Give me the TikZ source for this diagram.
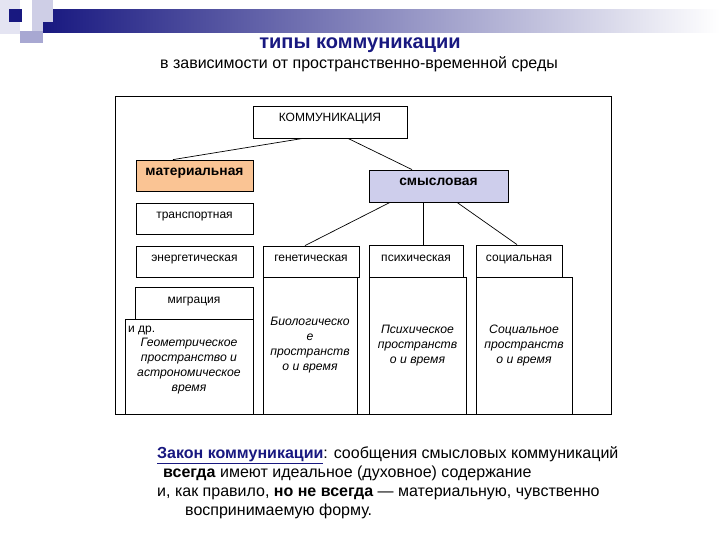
\documentclass[tikz,border=0pt]{standalone}
\usepackage{fontspec}
\setmainfont{Liberation Sans}

\definecolor{slidenavy}{RGB}{24,24,128}
\definecolor{matorange}{RGB}{250,196,148}
\definecolor{smyslblue}{RGB}{206,206,236}
\definecolor{sqpale}{RGB}{228,228,242}
\definecolor{sqlight}{RGB}{206,206,230}
\definecolor{sqmid}{RGB}{168,168,210}

\tikzset{
  box/.style={draw, rectangle, fill=white, line width=0.8pt, inner sep=2pt, text height=6pt, text depth=6pt, font=\fontsize{12}{14}\selectfont},
  kind/.style={box, font=\fontsize{13.8}{16}\selectfont\bfseries},
  space/.style={draw, rectangle, fill=white, line width=0.8pt, inner sep=2pt, align=center, font=\fontsize{12.2}{15}\selectfont\itshape},
  link/.style={line width=0.7pt}
}

\begin{document}
\begin{tikzpicture}[x=1pt, y=-1pt]
\useasboundingbox[fill=white] (0,0) rectangle (720,540);

% slide header
\fill[sqpale] (0,0) rectangle (20,34);
\shade[left color=slidenavy, right color=white] (43,10) rectangle (720,33);
\fill[sqlight] (32,0) rectangle (53,22);
\fill[sqlight] (32,22) rectangle (43,32);
\fill[sqmid] (20,31) rectangle (43,43);
\fill[slidenavy] (9,9) rectangle (22,22);

\node[font=\fontsize{20}{24}\selectfont\bfseries, text=slidenavy] (title) at (360,45) {типы коммуникации};
\node[font=\fontsize{16}{19}\selectfont] (subtitle) at (359,64) {в зависимости от пространственно-временной среды};

% frame
\draw[line width=0.8pt] (115,96) rectangle (611,414);

% lower boxes
\node[space, minimum width=128pt, minimum height=95pt] (geom) at (189,366.5) {Геометрическое\\пространство и\\астрономическое\\время};
\node[anchor=west, inner sep=2pt, font=\fontsize{12}{14}\selectfont] (etc) at (126,331) {и др.};
\node[space, minimum width=94pt, minimum height=137pt] (bio) at (310,345.5) {Биологическо\\е\\пространств\\о и время};
\node[space, minimum width=97pt, minimum height=137pt] (psychsp) at (417.5,345.5) {Психическое\\пространств\\о и время};
\node[space, minimum width=96pt, minimum height=137pt] (socsp) at (524,345.5) {Социальное\\пространств\\о и время};

% upper boxes
\node[box, minimum width=154pt, minimum height=32pt] (komm) at (330,122) {КОММУНИКАЦИЯ};
\node[kind, fill=matorange, minimum width=117pt, minimum height=31pt] (mat) at (194.5,175.5) {материальная};
\node[kind, fill=smyslblue, minimum width=139pt, minimum height=32pt] (smysl) at (438.5,186) {смысловая};
\node[box, minimum width=117pt, minimum height=31pt] (transp) at (194.5,218.5) {транспортная};
\node[box, minimum width=117pt, minimum height=31pt] (energ) at (194.5,261.5) {энергетическая};
\node[box, minimum width=118pt, minimum height=32pt] (migr) at (194,303) {миграция};
\node[box, minimum width=96pt, minimum height=31pt] (genet) at (311,261.5) {генетическая};
\node[box, minimum width=94pt, minimum height=32pt] (psych) at (416,261) {психическая};
\node[box, minimum width=86pt, minimum height=32pt] (soc) at (519,261) {социальная};

% links
\draw[link] ([xshift=-27pt]komm.south) -- ([xshift=-21.5pt]mat.north);
\draw[link] ([xshift=18pt]komm.south) -- ([xshift=-26.5pt]smysl.north);
\draw[link] ([xshift=-48.5pt]smysl.south) -- ([xshift=-6pt]genet.north);
\draw[link] ([xshift=-15.5pt]smysl.south) -- ([xshift=7pt]psych.north);
\draw[link] ([xshift=18.5pt]smysl.south) -- ([xshift=-2pt]soc.north);

% law
\node[anchor=north west, align=left, inner sep=0pt, font=\fontsize{16}{19}\selectfont] (law) at (157,446) {%
{\color{slidenavy}\bfseries\underline{Закон коммуникации}}: сообщения смысловых коммуникаций\\
\hspace*{6pt}\textbf{всегда} имеют идеальное (духовное) содержание\\
и, как правило, \textbf{но не всегда} --- материальную, чувственно\\
\hspace*{28pt}воспринимаемую форму.};
\end{tikzpicture}
\end{document}
